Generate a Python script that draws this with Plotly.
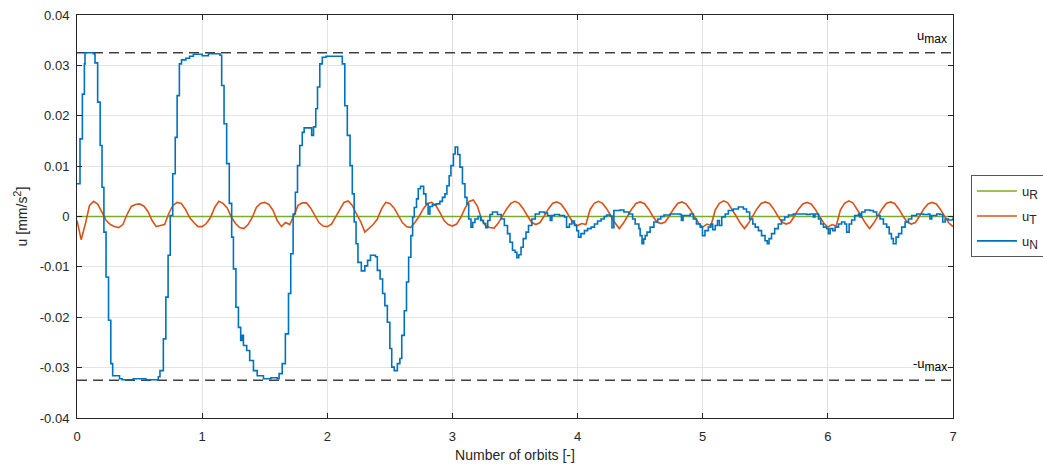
import plotly.graph_objects as go

# ---------------- data ----------------
U_MAX = 0.0325

X_TICKS = [0, 1, 2, 3, 4, 5, 6, 7]
Y_TICKS = [0.04, 0.03, 0.02, 0.01, 0, -0.01, -0.02, -0.03, -0.04]
Y_TICK_LABELS = ["0.04", "0.03", "0.02", "0.01", "0", "-0.01", "-0.02", "-0.03", "-0.04"]

# u_R : flat zero
uR_t = [0.0, 7.0]
uR_val = [0.0, 0.0]

# u_T sampled every 1/30 orbit
uT_val = [
    -0.0008, -0.0046, -0.0015, 0.0022, 0.0030, 0.0024, 0.0008, -0.0008, -0.0016, -0.0020,
    -0.0022, -0.0016, 0.0004, 0.0020, 0.0024, 0.0025, 0.0021, 0.0010, -0.0008, -0.0020,
    -0.0018, -0.0016, 0.0006, 0.0022, 0.0028, 0.0026, 0.0014, -0.0002, -0.0012, -0.0020,
    -0.0020, -0.0014, -0.0002, 0.0018, 0.0030, 0.0026, 0.0017, -0.0001, -0.0014, -0.0022,
    -0.0024, -0.0016, -0.0002, 0.0018, 0.0026, 0.0028, 0.0024, 0.0012, -0.0008, -0.0020,
    -0.0012, -0.0016, 0.0002, 0.0022, 0.0027, 0.0027, 0.0017, 0.0002, -0.0012, -0.0019,
    -0.0020, -0.0015, 0.0000, 0.0016, 0.0028, 0.0031, 0.0022, 0.0005, -0.0010, -0.0031,
    -0.0024, -0.0016, -0.0005, 0.0015, 0.0028, 0.0026, 0.0017, 0.0002, -0.0012, -0.0020,
    -0.0022, -0.0012, 0.0000, 0.0015, 0.0026, 0.0028, 0.0022, 0.0008, -0.0008, -0.0016,
    -0.0019, -0.0015, -0.0002, 0.0016, 0.0030, 0.0033, 0.0020, -0.0006, -0.0019, -0.0022,
    -0.0023, -0.0013, 0.0001, 0.0015, 0.0026, 0.0030, 0.0026, 0.0015, 0.0001, -0.0012,
    -0.0016, -0.0012, 0.0001, 0.0015, 0.0026, 0.0029, 0.0025, 0.0014, 0.0000, -0.0013,
    -0.0018, -0.0014, -0.0016, 0.0014, 0.0026, 0.0030, 0.0026, 0.0015, 0.0001, -0.0013,
    -0.0024, -0.0013, 0.0001, 0.0015, 0.0026, 0.0029, 0.0026, 0.0015, 0.0001, -0.0011,
    -0.0014, -0.0011, 0.0001, 0.0015, 0.0026, 0.0029, 0.0025, 0.0014, 0.0000, -0.0013,
    -0.0021, -0.0015, -0.0018, 0.0013, 0.0026, 0.0031, 0.0027, 0.0015, 0.0001, -0.0013,
    -0.0024, -0.0013, 0.0001, 0.0015, 0.0026, 0.0029, 0.0026, 0.0015, 0.0001, -0.0011,
    -0.0015, -0.0012, 0.0001, 0.0015, 0.0025, 0.0028, 0.0025, 0.0014, 0.0000, -0.0013,
    -0.0021, -0.0016, -0.0019, 0.0013, 0.0026, 0.0031, 0.0027, 0.0015, 0.0001, -0.0013,
    -0.0024, -0.0013, 0.0001, 0.0015, 0.0026, 0.0029, 0.0026, 0.0015, 0.0001, -0.0011,
    -0.0015, -0.0012, 0.0001, 0.0015, 0.0025, 0.0028, 0.0025, 0.0014, 0.0000, -0.0013,
    -0.0020,
]
uT_t = [i / 30 for i in range(len(uT_val))]

# u_N : step breakpoints (orbit, value)
uN_t = [
    0.000, 0.024, 0.043, 0.059, 0.064, 0.130, 0.144, 0.165, 0.185, 0.200,
    0.215, 0.232, 0.252, 0.270, 0.285, 0.340, 0.360, 0.450, 0.550, 0.650,
    0.663, 0.690, 0.710, 0.728, 0.745, 0.765, 0.785, 0.800, 0.818, 0.835,
    0.870, 0.900, 0.930, 1.000, 1.050, 1.143, 1.156, 1.175, 1.196, 1.217,
    1.236, 1.250, 1.270, 1.290, 1.308, 1.320, 1.330, 1.356, 1.380, 1.410,
    1.440, 1.490, 1.550, 1.600, 1.615, 1.640, 1.665, 1.690, 1.708, 1.727,
    1.745, 1.762, 1.780, 1.800, 1.815, 1.875, 1.890, 1.908, 1.922, 1.940,
    1.960, 1.990, 2.120, 2.140, 2.160, 2.182, 2.200, 2.215, 2.230, 2.245,
    2.272, 2.300, 2.322, 2.345, 2.385, 2.400, 2.422, 2.442, 2.460, 2.480,
    2.500, 2.515, 2.535, 2.560, 2.580, 2.595, 2.615, 2.633, 2.650, 2.668,
    2.682, 2.695, 2.713, 2.727, 2.745, 2.770, 2.788, 2.806, 2.820, 2.840,
    2.870, 2.900, 2.920, 2.940, 2.956, 2.974, 2.988, 3.008, 3.022, 3.042,
    3.060, 3.080, 3.100, 3.116, 3.130, 3.148, 3.162, 3.180, 3.205, 3.225,
    3.248, 3.266, 3.282, 3.300, 3.320, 3.360, 3.390, 3.415, 3.440, 3.460,
    3.480, 3.500, 3.515, 3.530, 3.548, 3.566, 3.588, 3.608, 3.635, 3.662,
    3.695, 3.735, 3.760, 3.782, 3.795, 3.815, 3.855, 3.895, 3.912, 3.935,
    3.955, 3.975, 3.993, 4.008, 4.027, 4.055, 4.080, 4.108, 4.135, 4.160,
    4.188, 4.213, 4.232, 4.260, 4.275, 4.290, 4.340, 4.370, 4.410, 4.440,
    4.460, 4.490, 4.500, 4.515, 4.528, 4.540, 4.555, 4.580, 4.610, 4.640,
    4.665, 4.690, 4.740, 4.790, 4.820, 4.830, 4.843, 4.900, 4.925, 4.950,
    4.980, 4.998, 5.018, 5.045, 5.065, 5.080, 5.100, 5.118, 5.133, 5.152,
    5.180, 5.205, 5.245, 5.285, 5.325, 5.350, 5.375, 5.400, 5.420, 5.445,
    5.470, 5.498, 5.516, 5.530, 5.550, 5.575, 5.604, 5.630, 5.655, 5.685,
    5.724, 5.775, 5.830, 5.857, 5.884, 5.897, 5.925, 5.943, 5.965, 5.990,
    6.004, 6.018, 6.040, 6.058, 6.085, 6.110, 6.135, 6.150, 6.170, 6.190,
    6.215, 6.245, 6.257, 6.270, 6.297, 6.337, 6.364, 6.390, 6.417, 6.444,
    6.470, 6.490, 6.508, 6.523, 6.545, 6.565, 6.590, 6.617, 6.644, 6.670,
    6.710, 6.763, 6.803, 6.816, 6.830, 6.870, 6.897, 6.918, 6.937, 6.963,
    7.000,
]
uN_val = [
    0.0065, 0.0154, 0.0243, 0.0303, 0.0325, 0.0323, 0.0305, 0.0227, 0.0141, 0.0058,
    -0.0031, -0.0120, -0.0206, -0.0292, -0.0316, -0.0322, -0.0324, -0.0322, -0.0324, -0.0318,
    -0.0306, -0.0243, -0.0160, -0.0077, 0.0002, 0.0085, 0.0157, 0.0240, 0.0303, 0.0311,
    0.0314, 0.0318, 0.0322, 0.0319, 0.0323, 0.0320, 0.0260, 0.0184, 0.0105, 0.0026,
    -0.0041, -0.0104, -0.0180, -0.0220, -0.0246, -0.0236, -0.0256, -0.0266, -0.0286, -0.0306,
    -0.0316, -0.0322, -0.0320, -0.0322, -0.0312, -0.0292, -0.0233, -0.0153, -0.0074, 0.0005,
    0.0048, 0.0101, 0.0141, 0.0167, 0.0176, 0.0161, 0.0178, 0.0214, 0.0257, 0.0303,
    0.0316, 0.0318, 0.0303, 0.0220, 0.0161, 0.0101, 0.0045, -0.0011, -0.0054, -0.0091,
    -0.0108, -0.0098, -0.0087, -0.0077, -0.0080, -0.0107, -0.0124, -0.0153, -0.0177, -0.0210,
    -0.0262, -0.0299, -0.0306, -0.0292, -0.0282, -0.0236, -0.0187, -0.0130, -0.0081, -0.0038,
    -0.0001, 0.0018, 0.0035, 0.0055, 0.0060, 0.0045, 0.0025, 0.0005, 0.0020, 0.0023,
    0.0025, 0.0030, 0.0038, 0.0045, 0.0061, 0.0081, 0.0101, 0.0124, 0.0138, 0.0123,
    0.0098, 0.0065, 0.0038, 0.0025, -0.0005, -0.0021, -0.0012, -0.0005, 0.0000, -0.0008,
    -0.0014, -0.0022, -0.0008, 0.0004, 0.0009, 0.0004, -0.0005, -0.0018, -0.0034, -0.0051,
    -0.0067, -0.0071, -0.0082, -0.0076, -0.0061, -0.0044, -0.0031, -0.0018, -0.0005, 0.0005,
    0.0009, 0.0007, 0.0002, -0.0008, 0.0002, 0.0004, 0.0002, -0.0001, -0.0021, -0.0015,
    -0.0009, -0.0018, -0.0028, -0.0041, -0.0034, -0.0028, -0.0024, -0.0021, -0.0015, -0.0009,
    -0.0005, 0.0000, 0.0003, 0.0001, -0.0022, 0.0012, 0.0013, 0.0009, 0.0005, -0.0005,
    -0.0015, -0.0024, -0.0038, -0.0054, -0.0045, -0.0038, -0.0031, -0.0021, -0.0011, -0.0005,
    0.0000, 0.0003, 0.0005, 0.0005, 0.0004, -0.0008, 0.0002, 0.0005, -0.0005, -0.0015,
    -0.0021, -0.0038, -0.0028, -0.0021, -0.0015, -0.0026, -0.0018, -0.0008, -0.0018, -0.0001,
    0.0005, 0.0012, 0.0015, 0.0019, 0.0015, 0.0009, -0.0005, -0.0015, -0.0021, -0.0028,
    -0.0038, -0.0048, -0.0054, -0.0044, -0.0034, -0.0024, -0.0015, -0.0007, -0.0001, 0.0003,
    0.0005, 0.0005, 0.0004, 0.0005, -0.0001, 0.0005, -0.0005, -0.0015, -0.0021, -0.0024,
    -0.0034, -0.0024, -0.0028, -0.0021, -0.0015, -0.0011, -0.0015, -0.0031, -0.0015, -0.0007,
    0.0002, 0.0005, -0.0001, 0.0009, 0.0013, 0.0012, 0.0009, 0.0002, -0.0005, -0.0015,
    -0.0021, -0.0034, -0.0044, -0.0054, -0.0041, -0.0034, -0.0021, -0.0011, -0.0005, 0.0002,
    0.0005, 0.0004, 0.0005, -0.0005, 0.0002, 0.0005, 0.0004, -0.0011, -0.0005, -0.0007,
    -0.0002,
]

# ---------------- styling ----------------
FONT = "Liberation Sans, Arial, Helvetica, sans-serif"
AX_COLOR = "#262626"
GRID = "#e3e3e3"
C_R = "#77AC30"
C_T = "#D95319"
C_N = "#0072BD"


def sub(base, s, size=11):
    return f"{base}<sub><span style='font-size:{size}px'>{s}</span></sub>"


fig = go.Figure()

# limit lines
fig.add_trace(go.Scatter(x=[X_TICKS[0], X_TICKS[-1]], y=[U_MAX, U_MAX], mode="lines",
                         line=dict(color="#404040", width=1.6, dash="10px,6px"),
                         showlegend=False, hoverinfo="skip"))
fig.add_trace(go.Scatter(x=[X_TICKS[0], X_TICKS[-1]], y=[-U_MAX, -U_MAX], mode="lines",
                         line=dict(color="#404040", width=1.6, dash="10px,6px"),
                         showlegend=False, hoverinfo="skip"))

fig.add_trace(go.Scatter(x=uR_t, y=uR_val, mode="lines", name=sub("u", "R", 12),
                         legendgroup="r", line=dict(color=C_R, width=1.6)))
fig.add_trace(go.Scatter(x=uT_t, y=uT_val, mode="lines", name=sub("u", "T", 12),
                         legendgroup="t", line=dict(color=C_T, width=1.6)))
fig.add_trace(go.Scatter(x=uN_t, y=uN_val, mode="lines", name=sub("u", "N", 12),
                         legendgroup="n", line=dict(color=C_N, width=1.6, shape="hv")))

fig.add_annotation(x=X_TICKS[-1], y=U_MAX, text=sub("u", "max", 12), showarrow=False,
                   xanchor="right", yanchor="bottom", xshift=-4, yshift=5,
                   font=dict(family=FONT, size=13, color="#000000"))
fig.add_annotation(x=X_TICKS[-1], y=-U_MAX, text=sub("-u", "max", 12), showarrow=False,
                   xanchor="right", yanchor="bottom", xshift=-4, yshift=4,
                   font=dict(family=FONT, size=13, color="#000000"))

axis_common = dict(
    showline=True, linecolor=AX_COLOR, linewidth=1, mirror="ticks",
    ticks="inside", ticklen=5, tickcolor=AX_COLOR, tickwidth=1,
    showgrid=True, gridcolor=GRID, gridwidth=1, zeroline=False,
    tickfont=dict(family=FONT, size=13, color=AX_COLOR),
)

fig.update_xaxes(range=[0, 7], tickvals=X_TICKS, ticktext=[str(v) for v in X_TICKS],
                 title=dict(text="Number of orbits [-]", font=dict(family=FONT, size=14, color=AX_COLOR),
                            standoff=7),
                 ticklabelstandoff=6, **axis_common)
fig.update_yaxes(range=[-0.04, 0.04], tickvals=Y_TICKS, ticktext=Y_TICK_LABELS,
                 title=dict(text="u [mm/s<sup><span style='font-size:11px'>2</span></sup>]",
                            font=dict(family=FONT, size=14, color=AX_COLOR), standoff=8),
                 ticklabelstandoff=4, **axis_common)

fig.update_layout(
    width=1043, height=470,
    margin=dict(l=77, r=90, t=15, b=52, autoexpand=False),
    paper_bgcolor="white", plot_bgcolor="white",
    font=dict(family=FONT, size=13, color=AX_COLOR),
    legend=dict(x=1.0205, y=0.501, xanchor="left", yanchor="middle",
                bordercolor="#555555", borderwidth=1, bgcolor="white",
                font=dict(family=FONT, size=13, color=AX_COLOR),
                tracegroupgap=5, itemwidth=40),
    showlegend=True,
)

fig.write_html("out.html")
